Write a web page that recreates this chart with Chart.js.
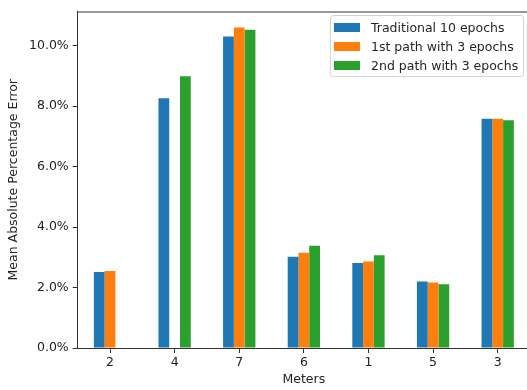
<!DOCTYPE html>
<html>
<head>
<meta charset="utf-8">
<script src="https://cdn.jsdelivr.net/npm/chart.js@4.4.1/dist/chart.umd.min.js"></script>
<style>
    html, body { margin: 0; padding: 0; background: #fff; overflow: hidden; }
    #wrap { position: relative; width: 530px; height: 390px; }
    #legend {
        position: absolute; left: 330px; top: 15px; width: 194px; height: 62px;
        border: 1px solid #d4d4d4; border-radius: 3px; background: rgba(255,255,255,0.8);
        font-family: 'DejaVu Sans', sans-serif; font-size: 12.5px; color: #262626;
        box-sizing: border-box; padding-top: 2px;
    }
    .item { display: flex; align-items: center; height: 19px; }
    .swatch { width: 26px; height: 9px; margin-left: 3px; margin-right: 11px; }
</style>
</head>
<body>
<div id="wrap">
    <canvas id="chart" width="530" height="390"></canvas>
    <div id="legend"></div>
</div>
<script>
// Chart data
const meters = ['2', '4', '7', '6', '1', '5', '3'];
const traditional10 = [2.51, 8.26, 10.30, 3.02, 2.81, 2.20, 7.58];
const firstPath3 = [2.55, null, 10.60, 3.15, 2.86, 2.17, 7.58];
const secondPath3 = [null, 8.99, 10.53, 3.38, 3.07, 2.11, 7.53];
const seriesLabels = ['Traditional 10 epochs', '1st path with 3 epochs', '2nd path with 3 epochs'];
const seriesColors = ['#1f77b4', '#ff7f0e', '#2ca02c'];

const textColor = '#222222';
const axisColor = '#333333';
const font = { family: "'DejaVu Sans', sans-serif", size: 12.5 };

// Top spine of the axes box
const topSpine = {
    id: 'topSpine',
    afterDraw(chart) {
        const { ctx, chartArea } = chart;
        ctx.save();
        ctx.strokeStyle = axisColor;
        ctx.lineWidth = 1;
        ctx.beginPath();
        ctx.moveTo(chartArea.left, chartArea.top + 0.5);
        ctx.lineTo(chartArea.right, chartArea.top + 0.5);
        ctx.stroke();
        ctx.restore();
    }
};

const datasets = [traditional10, firstPath3, secondPath3].map((values, i) => ({
    label: seriesLabels[i],
    data: values,
    backgroundColor: seriesColors[i],
    borderWidth: 0,
    barPercentage: 1.0,
    categoryPercentage: 0.5
}));

// HTML legend
const legendEl = document.getElementById('legend');
seriesLabels.forEach((label, i) => {
    const row = document.createElement('div');
    row.className = 'item';
    row.innerHTML = `<span class="swatch" style="background:${seriesColors[i]}"></span><span>${label}</span>`;
    legendEl.appendChild(row);
});

new Chart(document.getElementById('chart').getContext('2d'), {
    type: 'bar',
    data: { labels: meters, datasets },
    options: {
        responsive: false,
        animation: false,
        layout: { padding: { top: 9, right: 0, left: 2, bottom: 0 } },
        plugins: {
            legend: { display: false },
            tooltip: { enabled: false }
        },
        scales: {
            x: {
                offset: true,
                grid: { display: true, drawOnChartArea: false, color: axisColor, tickLength: 5, offset: false },
                border: { display: true, color: axisColor, width: 1 },
                ticks: { color: textColor, font, padding: 2, maxRotation: 0 },
                title: { display: true, text: 'Meters', color: textColor, font, padding: { top: 0, bottom: 3 } }
            },
            y: {
                min: 0,
                max: 11.13,
                grid: { display: true, drawOnChartArea: false, color: axisColor, tickLength: 5 },
                border: { display: true, color: axisColor, width: 1 },
                ticks: {
                    stepSize: 2,
                    includeBounds: false,
                    color: textColor,
                    font,
                    padding: 4,
                    callback: (value) => value.toFixed(1) + '%'
                },
                title: { display: true, text: 'Mean Absolute Percentage Error', color: textColor, font, padding: { top: 4, bottom: 4 } }
            }
        }
    },
    plugins: [topSpine]
});
</script>
</body>
</html>
